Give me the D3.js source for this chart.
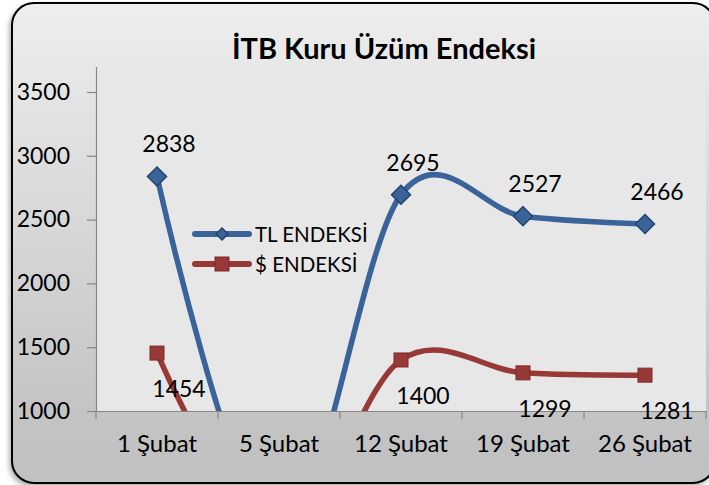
<!DOCTYPE html>
<html>
<head>
<meta charset="utf-8">
<script src="https://cdn.jsdelivr.net/npm/d3@7/dist/d3.min.js"></script>
<style>
  html, body { margin: 0; padding: 0; background: #ffffff; }
  svg { display: block; }
  text { font-family: Lato, "Open Sans", sans-serif; fill: #000; }
</style>
</head>
<body>
<script>
// ---- data ----
const categories = ["1 Şubat", "5 Şubat", "12 Şubat", "19 Şubat", "26 Şubat"];
const tlValues = [2838, 0, 2695, 2527, 2466];
const usdValues = [1454, 0, 1400, 1299, 1281];
const yTicks = [1000, 1500, 2000, 2500, 3000, 3500];
const seriesNames = ["TL ENDEKSİ", "$ ENDEKSİ"];
const chartTitle = "İTB Kuru Üzüm Endeksi";

// ---- layout ----
const W = 709, H = 485;
const plot = { left: 96, right: 706, top: 66.5, bottom: 411 };
const yMin = 1000, yMax = 3700;

const svg = d3.select("body").append("svg").attr("width", W).attr("height", H);
const defs = svg.append("defs");

const grad = defs.append("linearGradient").attr("id", "bg").attr("x1", 0).attr("y1", 0).attr("x2", 0).attr("y2", 1);
grad.append("stop").attr("offset", "0%").attr("stop-color", "#eeeeee");
grad.append("stop").attr("offset", "20%").attr("stop-color", "#e4e4e4");
grad.append("stop").attr("offset", "85%").attr("stop-color", "#c4c4c4");
grad.append("stop").attr("offset", "100%").attr("stop-color", "#c0c0c0");

const shadow = defs.append("filter").attr("id", "shadow").attr("x", "-5%").attr("y", "-5%").attr("width", "110%").attr("height", "110%");
shadow.append("feDropShadow").attr("dx", -2).attr("dy", 3).attr("stdDeviation", 2.5).attr("flood-color", "#000").attr("flood-opacity", 0.3);

defs.append("clipPath").attr("id", "plotClip").append("rect")
  .attr("x", plot.left).attr("y", plot.top)
  .attr("width", plot.right - plot.left).attr("height", plot.bottom - plot.top);

// chart background with rounded border
svg.append("rect")
  .attr("x", 12).attr("y", 3).attr("width", 703).attr("height", 480)
  .attr("rx", 22).attr("ry", 22)
  .attr("fill", "url(#bg)")
  .attr("stroke", "#000").attr("stroke-width", 2)
  .attr("filter", "url(#shadow)");

// plot area
svg.append("rect")
  .attr("x", plot.left).attr("y", plot.top)
  .attr("width", plot.right - plot.left).attr("height", plot.bottom - plot.top)
  .attr("fill", "#e7e7e7");

// scales
const x = d3.scaleBand().domain(categories).range([plot.left, plot.right]);
const cx = c => x(c) + x.bandwidth() / 2;
const y = d3.scaleLinear().domain([yMin, yMax]).range([plot.bottom, plot.top]);

// y axis
const yAxis = svg.append("g").attr("transform", `translate(${plot.left},0)`)
  .call(d3.axisLeft(y).tickValues(yTicks).tickSizeInner(9).tickSizeOuter(0).tickPadding(17).tickFormat(d3.format("d")));
yAxis.select(".domain").attr("stroke", "#868686").attr("stroke-width", 1.2);
yAxis.selectAll(".tick line").attr("stroke", "#868686").attr("stroke-width", 1.2);
yAxis.selectAll(".tick text").attr("font-size", 23).attr("font-family", "Lato, sans-serif").attr("fill", "#000");

// x axis
const xAxis = svg.append("g").attr("transform", `translate(0,${plot.bottom})`)
  .call(d3.axisBottom(x).tickSizeInner(0).tickSizeOuter(0).tickPadding(24));
xAxis.select(".domain").attr("stroke", "#868686").attr("stroke-width", 1.2);
xAxis.selectAll(".tick text").attr("font-size", 24).attr("font-family", "Lato, sans-serif").attr("fill", "#000");
const bounds = categories.map(c => x(c)).concat([x.range()[1]]);
xAxis.selectAll(".bound").data(bounds).enter().append("line")
  .attr("x1", d => d).attr("x2", d => d).attr("y1", 0).attr("y2", 8)
  .attr("stroke", "#868686").attr("stroke-width", 1.2);

// title
svg.append("text")
  .attr("x", 384).attr("y", 59)
  .attr("text-anchor", "middle")
  .attr("font-size", 29).attr("font-weight", "bold")
  .text(chartTitle);

// series
const series = [
  { name: seriesNames[0], values: tlValues, color: "#3a6499", dark: "#23446e", marker: "diamond", ldx: 12, ldy: -24 },
  { name: seriesNames[1], values: usdValues, color: "#973936", dark: "#7d2b29", marker: "square", ldx: 22, ldy: 44 }
];

const line = d3.line().x(d => cx(d.c)).y(d => y(d.v)).curve(d3.curveCardinal.tension(0));
const linesG = svg.append("g").attr("clip-path", "url(#plotClip)");

function drawMarker(g, type, px, py, s, fill, stroke) {
  if (type === "diamond") {
    g.append("path")
      .attr("d", `M${px},${py - s}L${px + s},${py}L${px},${py + s}L${px - s},${py}Z`)
      .attr("fill", fill).attr("stroke", stroke).attr("stroke-width", 1.5);
  } else {
    g.append("rect").attr("x", px - s).attr("y", py - s).attr("width", 2 * s).attr("height", 2 * s)
      .attr("fill", fill).attr("stroke", stroke).attr("stroke-width", 1);
  }
}

series.forEach(s => {
  const pts = categories.map((c, i) => ({ c, v: s.values[i] }));
  linesG.append("path").datum(pts)
    .attr("d", line)
    .attr("fill", "none").attr("stroke", s.color).attr("stroke-width", 5.5)
    .attr("stroke-linejoin", "round").attr("stroke-linecap", "round");
});

series.forEach(s => {
  const pts = categories.map((c, i) => ({ c, v: s.values[i] })).filter(d => d.v >= yMin && d.v <= yMax);
  const mg = svg.append("g");
  pts.forEach(d => {
    drawMarker(mg, s.marker, cx(d.c), y(d.v), s.marker === "diamond" ? 9.5 : 7, s.color, s.dark);
  });
  svg.append("g").selectAll("text").data(pts).enter().append("text")
    .attr("x", d => cx(d.c) + s.ldx).attr("y", d => y(d.v) + s.ldy)
    .attr("text-anchor", "middle").attr("font-size", 23)
    .text(d => d.v);
});

// legend
const legend = svg.append("g");
series.forEach((s, i) => {
  const ly = 234 + i * 30;
  legend.append("line").attr("x1", 195).attr("x2", 249).attr("y1", ly).attr("y2", ly)
    .attr("stroke", s.color).attr("stroke-width", 6).attr("stroke-linecap", "round");
  drawMarker(legend, s.marker, 222, ly, s.marker === "diamond" ? 6 : 7, s.color, s.dark);
  legend.append("text").attr("x", 255).attr("y", ly + 8).attr("font-size", 20.5).text(s.name);
});
</script>
</body>
</html>
